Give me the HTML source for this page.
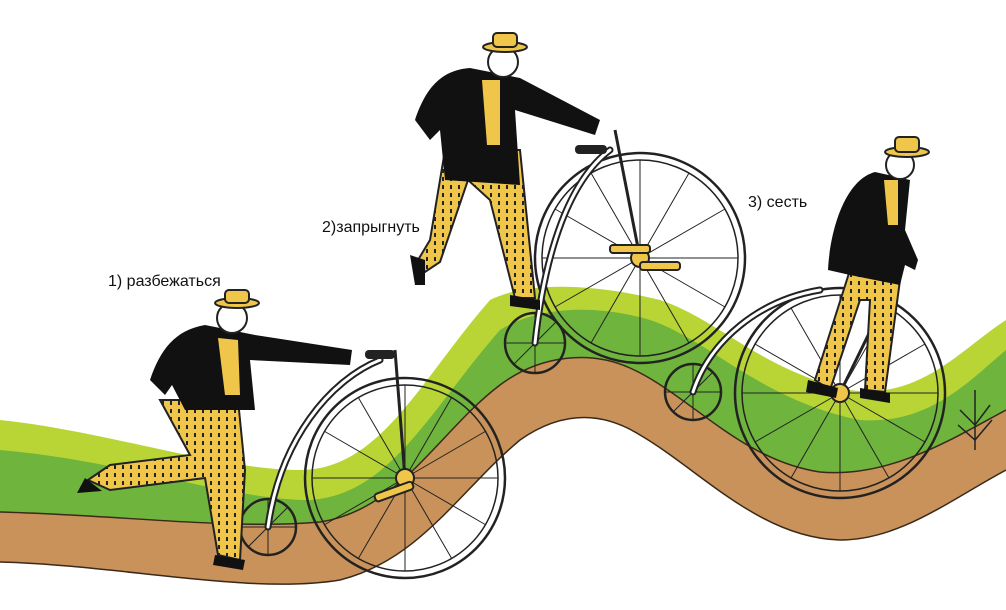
<!DOCTYPE html>
<html><head><meta charset="utf-8"><style>
html,body{margin:0;padding:0;background:#fff;width:1006px;height:610px;overflow:hidden}
svg{display:block}
text{font-family:"Liberation Sans","DejaVu Sans",sans-serif;font-size:16px;fill:#111}
</style></head><body>
<svg width="1006" height="610" viewBox="0 0 1006 610" xmlns="http://www.w3.org/2000/svg">
<defs>
<pattern id="dots" width="8" height="8" patternUnits="userSpaceOnUse">
<rect width="8" height="8" fill="#f0c64a"/><rect x="2" y="1" width="2" height="4" fill="#222"/>
</pattern>
</defs>
<!-- light green -->
<path d="M0,420 C100,430 220,470 300,470 C380,470 420,380 490,300 C530,280 600,285 660,300 C720,320 760,370 850,390 C920,400 960,350 1006,320 L1006,470 C950,500 900,540 840,540 C760,538 700,470 640,435 C600,410 560,412 520,440 C460,490 420,560 340,580 C250,595 120,565 0,562Z" fill="#b8d535"/>
<!-- dark green -->
<path d="M0,450 C120,460 230,500 310,500 C390,495 430,410 500,330 C540,305 600,305 650,320 C710,340 760,400 860,420 C930,425 970,380 1006,350 L1006,470 C950,500 900,540 840,540 C760,538 700,470 640,435 C600,410 560,412 520,440 C460,490 420,560 340,580 C250,595 120,565 0,562Z" fill="#6fb43c"/>
<!-- road -->
<path d="M0,512 C120,515 230,530 320,522 C400,510 440,430 500,385 C540,355 590,350 630,368 C690,395 740,460 820,472 C890,478 950,440 1006,410 L1006,470 C950,500 900,540 840,540 C760,538 700,470 640,435 C600,410 560,412 520,440 C460,490 420,560 340,580 C250,595 120,565 0,562Z" fill="#c8925a"/>
<path d="M0,512 C120,515 230,530 320,522 C400,510 440,430 500,385 C540,355 590,350 630,368 C690,395 740,460 820,472 C890,478 950,440 1006,410" fill="none" stroke="#3a2a1a" stroke-width="1.5"/>
<path d="M0,562 C120,565 250,595 340,580 C420,560 460,490 520,440 C560,412 600,410 640,435 C700,470 760,538 840,540 C900,540 950,500 1006,470" fill="none" stroke="#3a2a1a" stroke-width="1.5"/>
<!-- tree -->
<g stroke="#222" stroke-width="1.5" fill="none"><line x1="975" y1="390" x2="975" y2="450"/><path d="M960,410 L975,425 L990,405 M958,425 L975,440 L992,420"/></g>

<!-- wheels -->
<g fill="none" stroke="#222" stroke-width="2.5">
<circle cx="405" cy="478" r="100"/><circle cx="405" cy="478" r="93" stroke-width="1.5"/>
<circle cx="268" cy="527" r="28"/>
<circle cx="640" cy="258" r="105"/><circle cx="640" cy="258" r="98" stroke-width="1.5"/>
<circle cx="535" cy="343" r="30"/>
<circle cx="840" cy="393" r="105"/><circle cx="840" cy="393" r="98" stroke-width="1.5"/>
<circle cx="693" cy="392" r="28"/>
</g>
<g stroke="#222" stroke-width="1">
<path d="M405,478 L405,385 M405,478 L452,397 M405,478 L486,431 M405,478 L498,478 M405,478 L486,525 M405,478 L452,559 M405,478 L405,571 M405,478 L358,559 M405,478 L324,525 M405,478 L312,478 M405,478 L324,431 M405,478 L358,397"/>
<path d="M640,258 L640,160 M640,258 L689,173 M640,258 L725,209 M640,258 L738,258 M640,258 L725,307 M640,258 L689,343 M640,258 L640,356 M640,258 L591,343 M640,258 L555,307 M640,258 L542,258 M640,258 L555,209 M640,258 L591,173"/>
<path d="M840,393 L840,295 M840,393 L889,308 M840,393 L925,344 M840,393 L938,393 M840,393 L925,442 M840,393 L889,478 M840,393 L840,491 M840,393 L791,478 M840,393 L755,442 M840,393 L742,393 M840,393 L755,344 M840,393 L791,308"/>
<path d="M268,527 L268,499 M268,527 L296,527 M268,527 L268,555 M268,527 L240,527 M268,527 L288,507 M268,527 L248,547"/>
<path d="M535,343 L535,313 M535,343 L565,343 M535,343 L535,373 M535,343 L505,343 M535,343 L556,322 M535,343 L514,364"/>
<path d="M693,392 L693,364 M693,392 L721,392 M693,392 L693,420 M693,392 L665,392 M693,392 L713,372 M693,392 L673,412"/>
</g>
<!-- frames -->
<g fill="none" stroke="#222" stroke-width="7" stroke-linecap="round"><path d="M268,527 C280,440 330,380 380,360"/><path d="M535,343 C545,250 570,180 610,150"/><path d="M693,392 C710,340 760,300 820,290"/></g>
<g fill="none" stroke="#fff" stroke-width="3" stroke-linecap="round"><path d="M268,527 C280,440 330,380 380,360"/><path d="M535,343 C545,250 570,180 610,150"/><path d="M693,392 C710,340 760,300 820,290"/></g>
<g stroke="#222" stroke-width="3" fill="none"><line x1="395" y1="350" x2="405" y2="478"/><line x1="615" y1="130" x2="640" y2="258"/><line x1="895" y1="280" x2="840" y2="393"/></g>
<g fill="#222"><rect x="365" y="350" width="30" height="9" rx="4"/><rect x="575" y="145" width="32" height="9" rx="4"/></g>
<g fill="#f0c64a" stroke="#222" stroke-width="2"><circle cx="405" cy="478" r="9"/><circle cx="640" cy="258" r="9"/><circle cx="840" cy="393" r="9"/>
<rect x="370" y="483" width="40" height="8" rx="3" transform="rotate(-20 405 478)"/><rect x="610" y="245" width="40" height="8" rx="3"/><rect x="640" y="262" width="40" height="8" rx="3"/></g>

<!-- person 1 -->
<path d="M160,400 L190,455 L110,465 L88,480 L110,490 L205,478 L218,555 L240,560 L245,470 L238,400Z" fill="url(#dots)" stroke="#222" stroke-width="2"/>
<path d="M85,478 l-8,15 l25,-2z M215,555 l30,5 l-2,10 l-30,-5z" fill="#111"/>
<path d="M205,325 C175,330 160,350 150,380 L165,395 L172,385 L185,410 L255,410 L250,360 L350,365 L352,350 L255,335 Z" fill="#111"/>
<path d="M218,338 L225,395 L240,395 L238,340Z" fill="#f0c64a"/>
<circle cx="232" cy="318" r="15" fill="#fff" stroke="#222" stroke-width="2"/>
<ellipse cx="237" cy="303" rx="22" ry="5" fill="#f0c64a" stroke="#222" stroke-width="2"/><rect x="225" y="290" width="24" height="13" rx="4" fill="#f0c64a" stroke="#222" stroke-width="2"/>
<!-- person 2 -->
<path d="M445,150 L430,240 L418,260 L425,272 L440,262 L468,180 L490,200 L515,298 L535,298 L520,150Z" fill="url(#dots)" stroke="#222" stroke-width="2"/>
<path d="M410,255 l5,30 l10,0 l0,-25z M510,295 l30,5 l0,10 l-30,-4z" fill="#111"/>
<path d="M470,68 C440,70 425,90 415,120 L430,140 L440,130 L445,180 L520,185 L515,110 L595,135 L600,120 L520,78Z" fill="#111"/>
<path d="M482,80 L487,145 L500,145 L500,80Z" fill="#f0c64a"/>
<circle cx="503" cy="62" r="15" fill="#fff" stroke="#222" stroke-width="2"/>
<ellipse cx="505" cy="47" rx="22" ry="5" fill="#f0c64a" stroke="#222" stroke-width="2"/><rect x="493" y="33" width="24" height="14" rx="4" fill="#f0c64a" stroke="#222" stroke-width="2"/>
<!-- person 3 -->
<path d="M850,270 L815,380 L830,390 L860,300 L870,300 L865,390 L885,392 L900,280Z" fill="url(#dots)" stroke="#222" stroke-width="2"/>
<path d="M808,380 l30,8 l-2,10 l-30,-6z M860,388 l30,5 l0,10 l-30,-5z" fill="#111"/>
<path d="M875,172 C845,180 830,230 828,270 L850,275 L900,285 L905,265 L915,270 L918,260 L905,230 L910,180Z" fill="#111"/>
<path d="M884,180 L888,225 L898,225 L898,180Z" fill="#f0c64a"/>
<circle cx="900" cy="165" r="14" fill="#fff" stroke="#222" stroke-width="2"/>
<ellipse cx="907" cy="152" rx="22" ry="5" fill="#f0c64a" stroke="#222" stroke-width="2"/><rect x="895" y="137" width="24" height="15" rx="4" fill="#f0c64a" stroke="#222" stroke-width="2"/>

<text x="108" y="286">1) разбежаться</text>
<text x="322" y="232">2)запрыгнуть</text>
<text x="748" y="207">3) сесть</text>
</svg>
</body></html>
